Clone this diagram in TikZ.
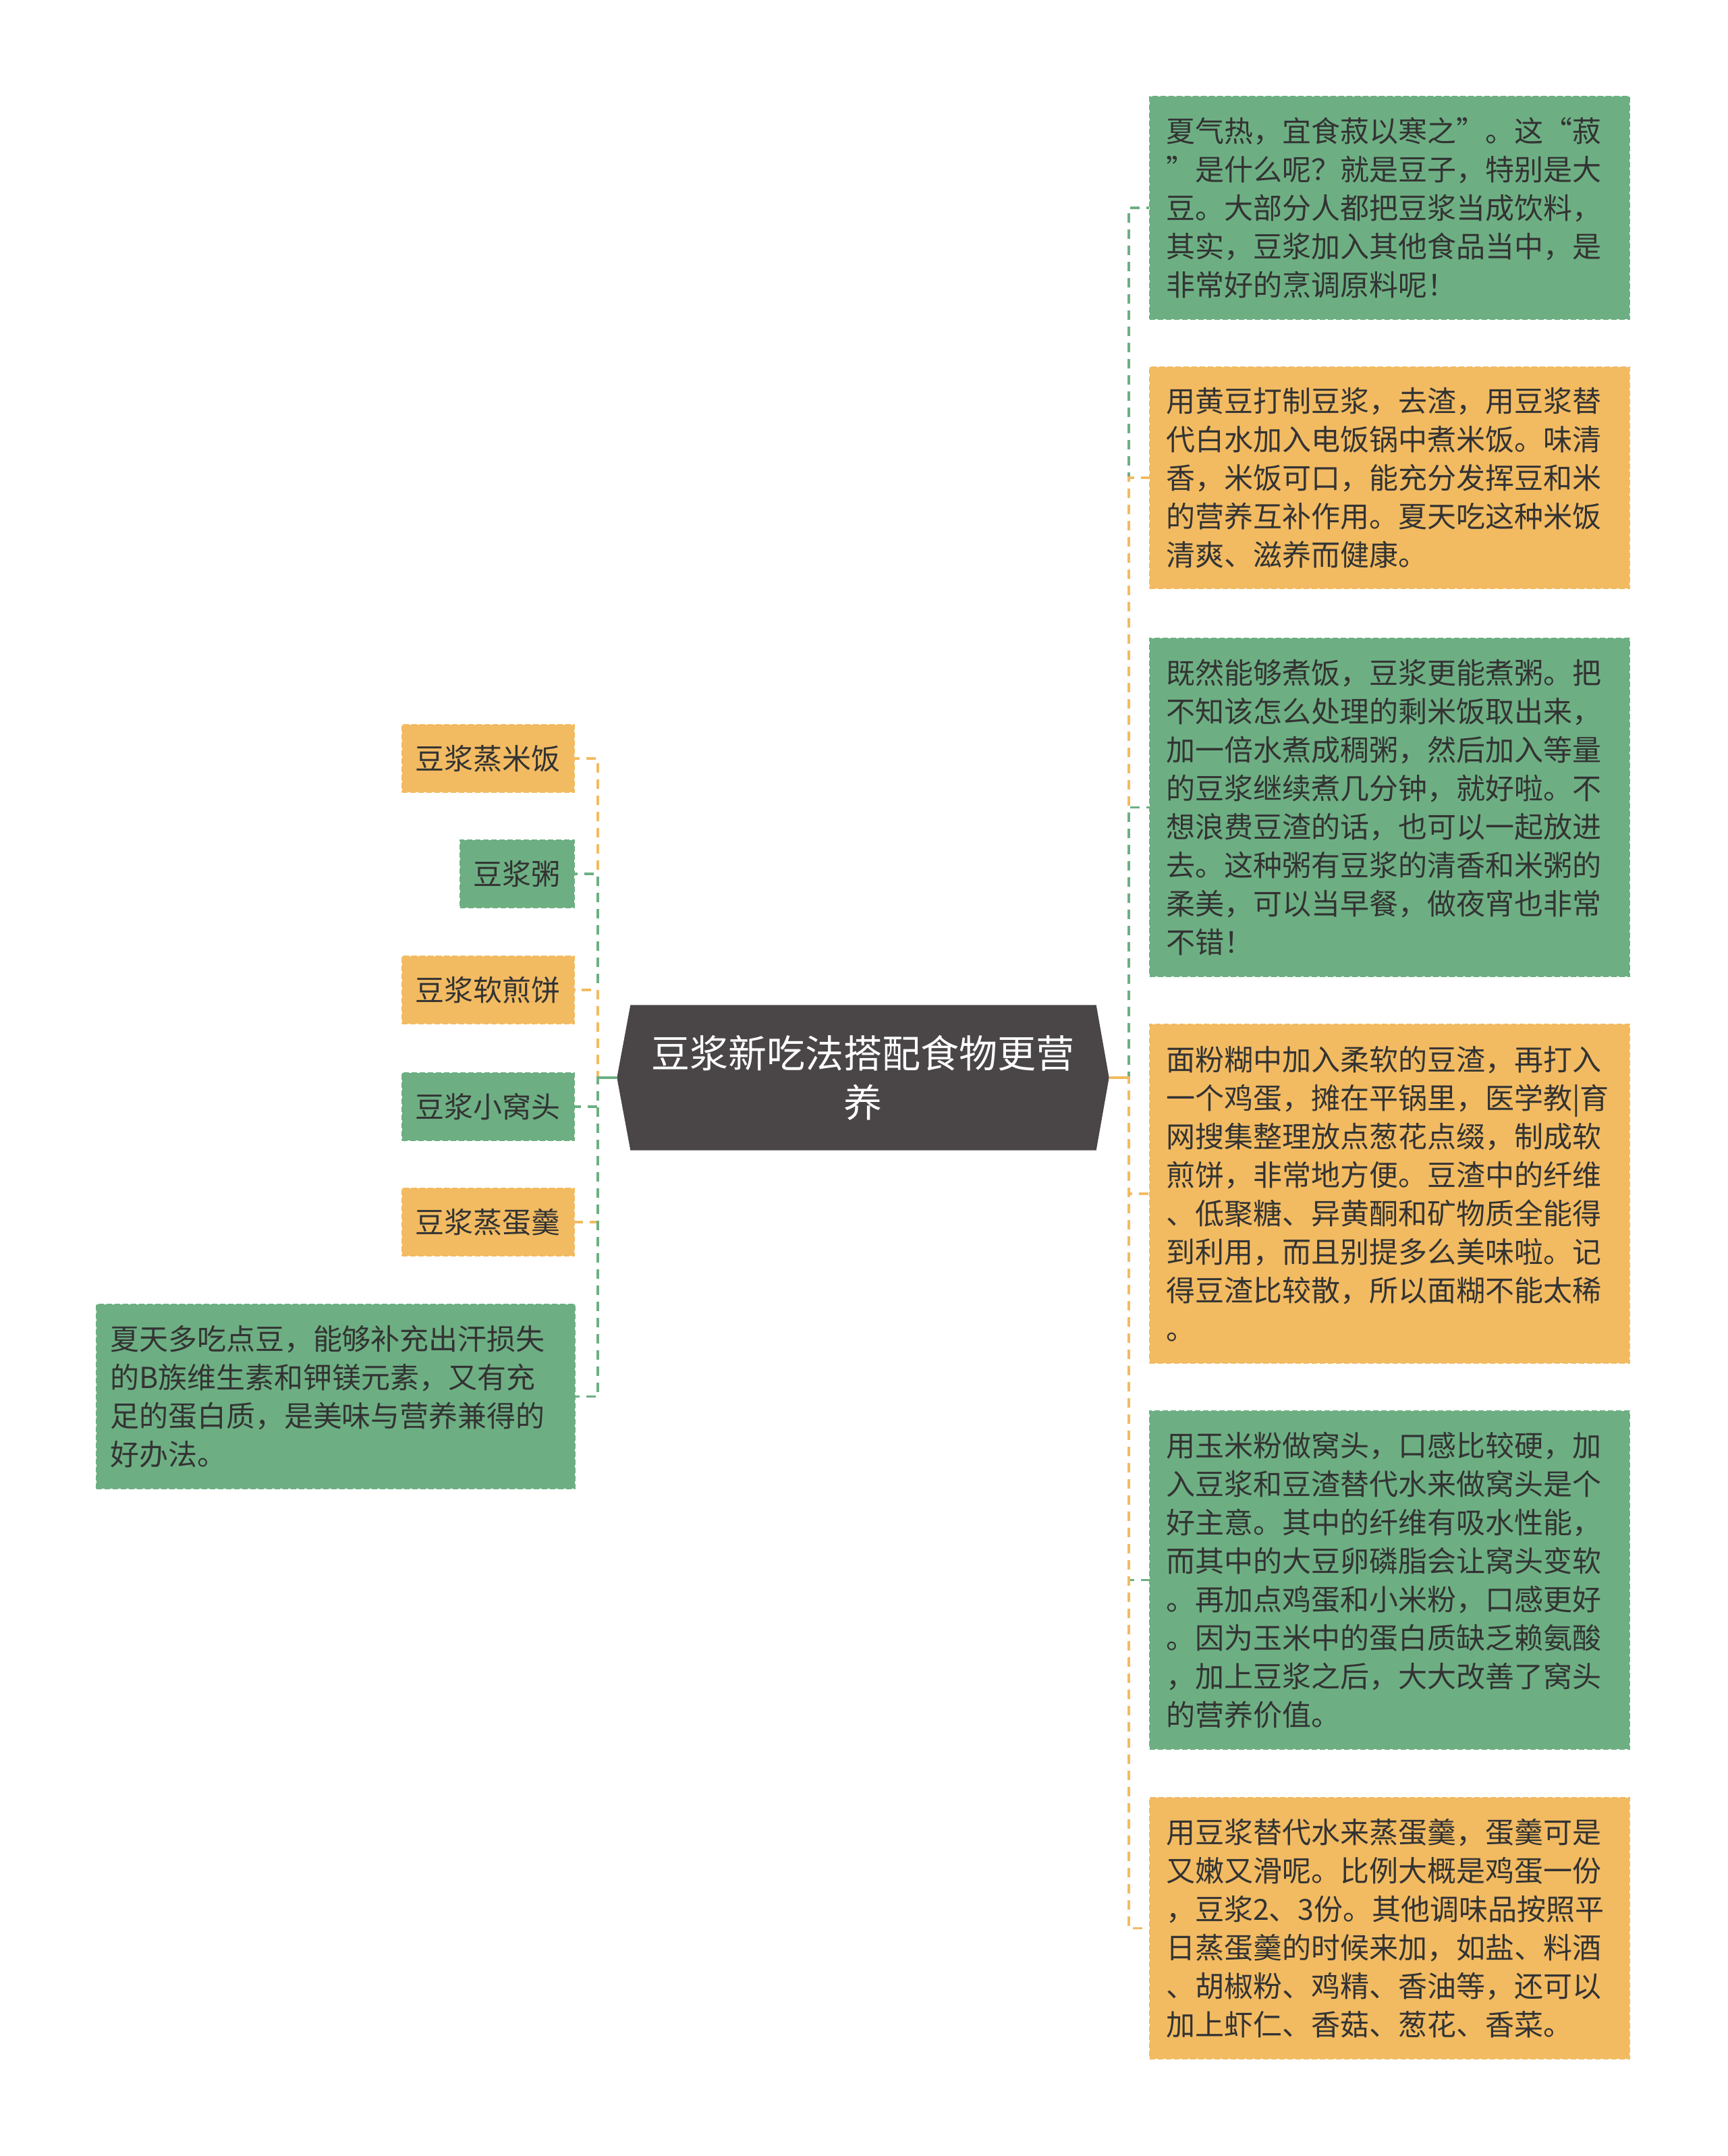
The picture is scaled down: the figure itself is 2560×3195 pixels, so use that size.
\documentclass[tikz,border=0pt]{standalone}
\usepackage{fontspec}
\setmainfont{Noto Sans CJK SC}
\definecolor{gfill}{HTML}{6DAF83}
\definecolor{ofill}{HTML}{F2BB62}
\definecolor{cdark}{HTML}{4A4546}
\definecolor{txt}{HTML}{333333}
\pgfdeclarelayer{bg}
\pgfsetlayers{bg,main}
\newcommand{\bodyfont}{\fontsize{12.9pt}{17.1pt}\selectfont}
\newcommand{\centfont}{\fontsize{17.1pt}{21.9pt}\selectfont}
\begin{document}
\begin{tikzpicture}[x=0.3pt,y=-0.3pt,
  box/.style={rectangle, inner sep=0pt, font=\bodyfont, text=txt, line width=0.7pt, dash pattern=on 2.4pt off 1.2pt},
  gbox/.style={box, fill=gfill, draw=gfill},
  obox/.style={box, fill=ofill, draw=ofill},
  rbox/.style={align=left, minimum width=213.3pt, text width=198.9pt},
  lsmall/.style={anchor=east, minimum height=30pt, inner xsep=6pt},
  cnode/.style={rectangle, inner sep=0pt, minimum width=218.4pt, minimum height=64.2pt, align=center, font=\centfont, text=white},
  conn/.style={line width=1.1pt, dash pattern=on 4.2pt off 3pt},
  stub/.style={line width=1.1pt}]
\useasboundingbox (0,0) rectangle (2560,3195);

% central node
\node[cnode] (c) at (1279,1597) {豆浆新吃法搭配食物更营\\养};
\begin{pgfonlayer}{bg}
\fill[white] (0,0) rectangle (2560,3195);
\fill[cdark] (c.west) -- ([xshift=6pt]c.north west) -- ([xshift=-5.7pt]c.north east) -- (c.east)
  -- ([xshift=-5.7pt]c.south east) -- ([xshift=6pt]c.south west) -- cycle;
\end{pgfonlayer}

\coordinate (lj) at (886,1597);
\coordinate (rj) at (1673,1597);

% left nodes
\node[obox, lsmall] (l1) at (852,1124) {豆浆蒸米饭};
\node[gbox, lsmall] (l2) at (852,1295) {豆浆粥};
\node[obox, lsmall] (l3) at (852,1467) {豆浆软煎饼};
\node[gbox, lsmall] (l4) at (852,1640) {豆浆小窝头};
\node[obox, lsmall] (l5) at (852,1811) {豆浆蒸蛋羹};
\node[gbox, align=left, minimum width=212.7pt, minimum height=81.9pt, text width=200.7pt] (l6) at (497.5,2069.5)
 {夏天多吃点豆，能够补充出汗损失\\的B族维生素和钾镁元素，又有充\\足的蛋白质，是美味与营养兼得的\\好办法。};

% right nodes
\node[gbox, rbox, minimum height=99pt] (r1) at (2059.5,308)
 {夏气热，宜食菽以寒之”。这“菽\\”是什么呢？就是豆子，特别是大\\豆。大部分人都把豆浆当成饮料，\\其实，豆浆加入其他食品当中，是\\非常好的烹调原料呢！};
\node[obox, rbox, minimum height=98.4pt] (r2) at (2059.5,708)
 {用黄豆打制豆浆，去渣，用豆浆替\\代白水加入电饭锅中煮米饭。味清\\香，米饭可口，能充分发挥豆和米\\的营养互补作用。夏天吃这种米饭\\清爽、滋养而健康。};
\node[gbox, rbox, minimum height=150.3pt] (r3) at (2059.5,1196.5)
 {既然能够煮饭，豆浆更能煮粥。把\\不知该怎么处理的剩米饭取出来，\\加一倍水煮成稠粥，然后加入等量\\的豆浆继续煮几分钟，就好啦。不\\想浪费豆渣的话，也可以一起放进\\去。这种粥有豆浆的清香和米粥的\\柔美，可以当早餐，做夜宵也非常\\不错！};
\node[obox, rbox, minimum height=150.6pt] (r4) at (2059.5,1769)
 {面粉糊中加入柔软的豆渣，再打入\\一个鸡蛋，摊在平锅里，医学教|育\\网搜集整理放点葱花点缀，制成软\\煎饼，非常地方便。豆渣中的纤维\\、低聚糖、异黄酮和矿物质全能得\\到利用，而且别提多么美味啦。记\\得豆渣比较散，所以面糊不能太稀\\。};
\node[gbox, rbox, minimum height=150.3pt] (r5) at (2059.5,2341.5)
 {用玉米粉做窝头，口感比较硬，加\\入豆浆和豆渣替代水来做窝头是个\\好主意。其中的纤维有吸水性能，\\而其中的大豆卵磷脂会让窝头变软\\。再加点鸡蛋和小米粉，口感更好\\。因为玉米中的蛋白质缺乏赖氨酸\\，加上豆浆之后，大大改善了窝头\\的营养价值。};
\node[obox, rbox, minimum height=116.1pt] (r6) at (2059.5,2857.5)
 {用豆浆替代水来蒸蛋羹，蛋羹可是\\又嫩又滑呢。比例大概是鸡蛋一份\\，豆浆2、3份。其他调味品按照平\\日蒸蛋羹的时候来加，如盐、料酒\\、胡椒粉、鸡精、香油等，还可以\\加上虾仁、香菇、葱花、香菜。};

% connectors
\draw[conn, ofill] (c.west) -- (lj) |- (l1.east);
\draw[conn, gfill] (c.west) -- (lj) |- (l2.east);
\draw[conn, ofill] (c.west) -- (lj) |- (l3.east);
\draw[conn, gfill] (c.west) -- (lj) |- (l4.east);
\draw[conn, ofill] (c.west) -- (lj) |- (l5.east);
\draw[conn, gfill] (c.west) -- (lj) |- (l6.east);
\draw[stub, gfill] (c.west) -- (lj);

\draw[conn, gfill] (c.east) -- (rj) |- (r1.west);
\draw[conn, ofill] (c.east) -- (rj) |- (r2.west);
\draw[conn, gfill] (c.east) -- (rj) |- (r3.west);
\draw[conn, ofill] (c.east) -- (rj) |- (r4.west);
\draw[conn, gfill] (c.east) -- (rj) |- (r5.west);
\draw[conn, ofill] (c.east) -- (rj) |- (r6.west);
\draw[stub, ofill] (c.east) -- (rj);
\end{tikzpicture}
\end{document}
